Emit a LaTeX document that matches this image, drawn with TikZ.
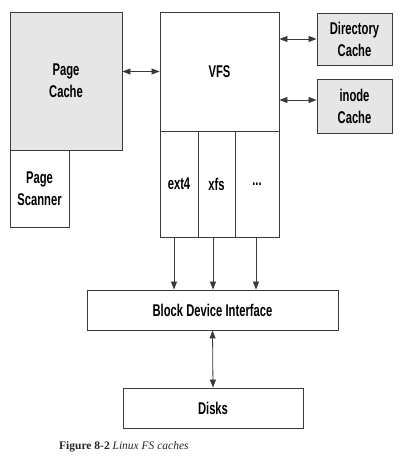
\documentclass[tikz,border=0pt]{standalone}
\usepackage{fontspec}
\usetikzlibrary{arrows.meta,calc}
\newfontfamily\narrowbf[FakeStretch=0.66]{Liberation Sans Bold}
\newfontfamily\capserif{Liberation Serif}
\definecolor{boxgray}{HTML}{E6E6E6}
\definecolor{edge}{HTML}{3A3A3A}
\begin{document}
\begin{tikzpicture}[x=1pt,y=-1pt,
  box/.style={draw=edge,line width=0.9pt,inner sep=0pt,align=center,
    font=\narrowbf\fontsize{17}{22}\selectfont,text=black},
  gbox/.style={box,fill=boxgray},
  arr/.style={line width=0.8pt,draw=edge,-{Triangle[length=8pt,width=6pt]}},
  darr/.style={line width=0.8pt,draw=edge,{Triangle[length=8pt,width=6pt]}-{Triangle[length=8pt,width=6pt]}}]
\useasboundingbox (0,0) rectangle (400,463);
\node[gbox,minimum width=112pt,minimum height=138pt] (pc) at (66,81) {Page\\Cache};
\node[box,minimum width=59pt,minimum height=77pt] (ps) at (39.5,188.5) {Page\\Scanner};
\node[box,minimum width=119pt,minimum height=119pt] (vfs) at (219.5,71.5) {VFS};
\node[box,minimum width=38pt,minimum height=106pt] (ext) at (179,184) {ext4};
\node[box,minimum width=37pt,minimum height=106pt] (xfs) at (216.5,184) {xfs};
\node[box,minimum width=44pt,minimum height=106pt] (dots) at (257,184) {...};
\node[gbox,minimum width=75pt,minimum height=52pt] (dc) at (354.5,39) {Directory\\Cache};
\node[gbox,minimum width=75pt,minimum height=54pt] (ic) at (354.5,106) {inode\\Cache};
\node[box,minimum width=251pt,minimum height=40pt] (blk) at (212.5,310) {Block Device Interface};
\node[box,minimum width=180pt,minimum height=40pt] (disks) at (213,408) {Disks};
\node[anchor=west,inner sep=0pt,font=\capserif\fontsize{11.5}{13}\selectfont,text=black!85] (cap) at (59,447) {\textbf{Figure 8-2} \textit{Linux FS caches}};
\draw[darr] (pc.east |- vfs.west) -- (vfs.west);
\draw[darr] (vfs.east |- dc.west) -- (dc.west);
\coordinate (iy) at (0,100);
\draw[darr] (vfs.east |- iy) -- (ic.west |- iy);
\draw[arr] ([xshift=-5pt]ext.south) -- ([xshift=-5pt]ext.south |- blk.north);
\draw[arr] ([xshift=-3.5pt]xfs.south) -- ([xshift=-3.5pt]xfs.south |- blk.north);
\draw[arr] ([xshift=-1pt]dots.south) -- ([xshift=-1pt]dots.south |- blk.north);
\draw[darr] (blk.south) -- (disks.north);
\end{tikzpicture}
\end{document}
